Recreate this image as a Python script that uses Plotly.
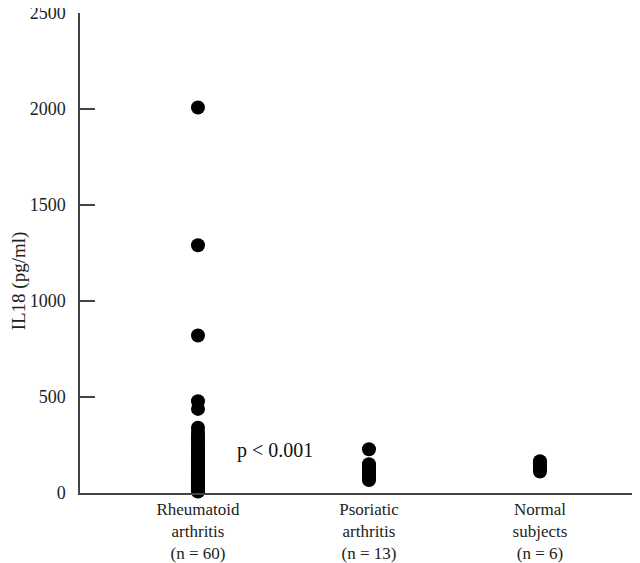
import plotly.graph_objects as go

categories = ["Rheumatoid<br>arthritis<br>(n = 60)", "Psoriatic<br>arthritis<br>(n = 13)", "Normal<br>subjects<br>(n = 6)"]
cat_pos = [1, 2, 3]

ra_values = [2008, 1290, 820, 478, 438, 340, 318, 300, 285, 270,
             258, 245, 235, 225, 215, 205, 198, 190, 182, 175,
             168, 160, 152, 145, 140, 135, 130, 125, 120, 115,
             110, 105, 100, 96, 92, 88, 84, 80, 76, 72,
             68, 64, 60, 56, 52, 48, 45, 42, 38, 35,
             32, 29, 26, 23, 20, 17, 14, 12, 10, 8]
pa_values = [228, 150, 140, 130, 122, 115, 108, 100, 93, 86, 80, 74, 68]
ns_values = [165, 155, 145, 135, 122, 112]

y_ticks = [0, 500, 1000, 1500, 2000, 2500]
y_title = "IL18 (pg/ml)"
p_text = "p < 0.001"

FONT = "Liberation Serif, Times New Roman, serif"

fig = go.Figure()
for pos, vals in zip(cat_pos, [ra_values, pa_values, ns_values]):
    fig.add_trace(go.Scatter(
        x=[pos] * len(vals), y=vals, mode="markers",
        marker=dict(size=14, color="black"),
        showlegend=False, hoverinfo="y", cliponaxis=False))

fig.add_annotation(x=1.45, y=222, text=p_text, showarrow=False,
                   font=dict(family=FONT, size=20, color="#111"),
                   xref="x", yref="y")

fig.add_annotation(x=0, y=0.441, xref="paper", yref="paper", xshift=-61,
                   text=y_title, textangle=-90, showarrow=False,
                   xanchor="center", yanchor="middle",
                   font=dict(family=FONT, size=19, color="#222"))

# page body has an 8px margin; size the figure to fit inside the window
fig.update_layout(
    width=632, height=555,
    margin=dict(l=72, r=0, t=5, b=70),
    plot_bgcolor="white", paper_bgcolor="white",
    font=dict(family=FONT, size=18, color="#222"),
    xaxis=dict(range=[0.31, 3.585], tickvals=cat_pos, ticktext=categories,
               showline=True, linecolor="#444", linewidth=1.5,
               ticks="", showgrid=False, zeroline=False, automargin=False,
               tickfont=dict(size=17)),
    yaxis=dict(range=[0, 2500], tickvals=y_ticks,
               showline=True, linecolor="#444", linewidth=1.5,
               ticks="inside", ticklen=15, tickcolor="#444", tickwidth=1.5,
               showgrid=False, zeroline=False, automargin=False,
               ticklabeloverflow="allow", ticklabelstandoff=9,
               tickfont=dict(size=18)),
)

fig.write_html("out.html")
